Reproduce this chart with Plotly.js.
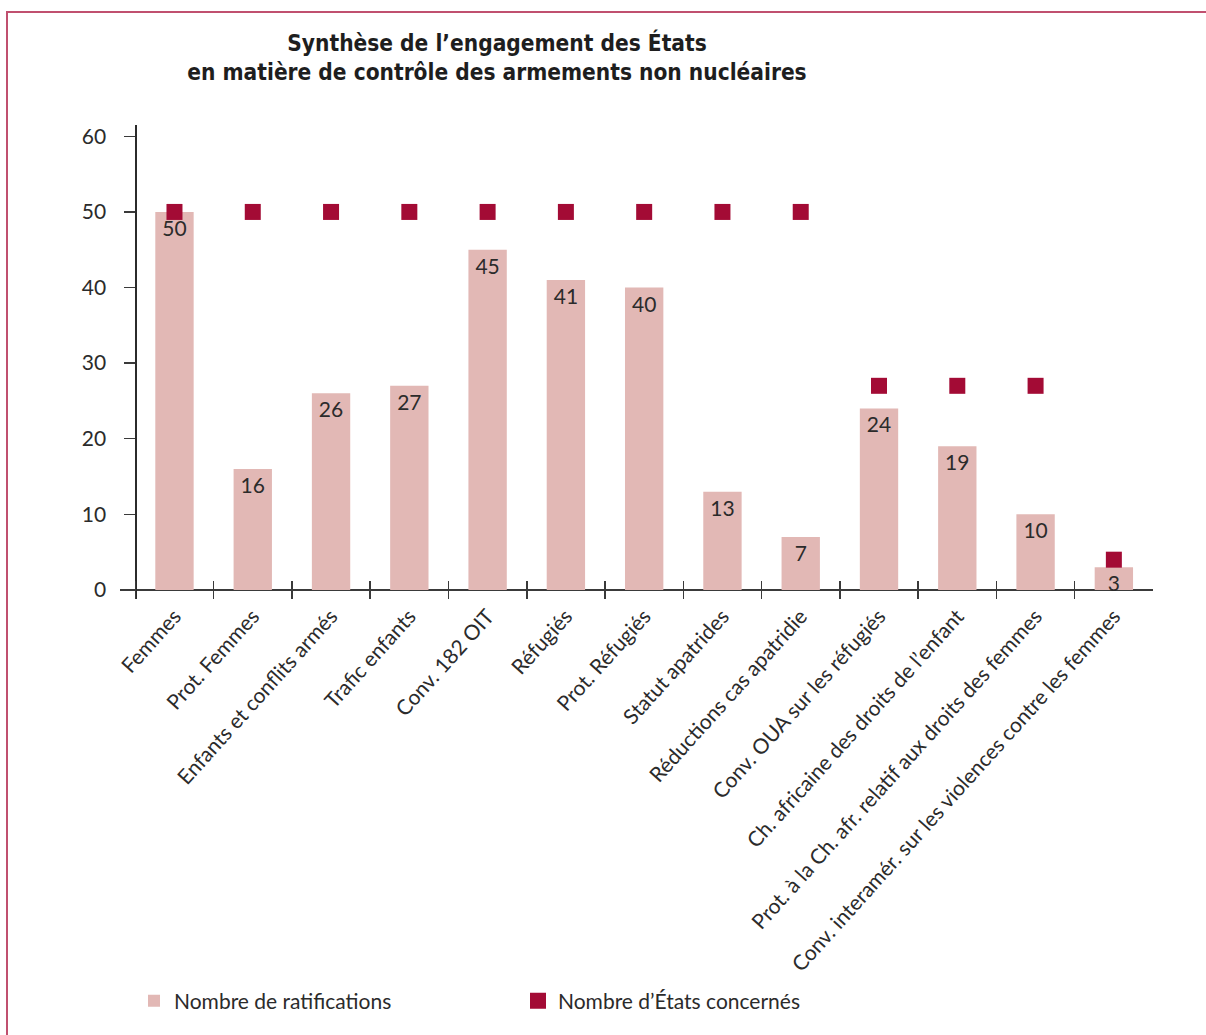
<!DOCTYPE html>
<html>
<head>
<meta charset="utf-8">
<script src="https://cdn.plot.ly/plotly-3.0.1.min.js"></script>
<style>
  html, body { margin: 0; padding: 0; background: #ffffff; }
  #wrap { position: relative; width: 1206px; height: 1035px; overflow: hidden; }
  #chart { position: absolute; left: 0; top: 0; width: 1206px; height: 1035px; }
  #frame { position: absolute; left: 6px; top: 11px; width: 1210px; height: 1040px;
           border-left: 2px solid #c0506f; border-top: 2px solid #c0506f; pointer-events: none; }
</style>
</head>
<body>
<div id="wrap">
  <div id="chart"></div>
  <div id="frame"></div>
</div>
<script>
const categories = [
  "Femmes",
  "Prot. Femmes",
  "Enfants et conflits armés",
  "Trafic enfants",
  "Conv. 182 OIT",
  "Réfugiés",
  "Prot. Réfugiés",
  "Statut apatrides",
  "Réductions cas apatridie",
  "Conv. OUA sur les réfugiés",
  "Ch. africaine des droits de l’enfant",
  "Prot. à la Ch. afr. relatif aux droits des femmes",
  "Conv. interamér. sur les violences contre les femmes"
];
const ratifications = [50, 16, 26, 27, 45, 41, 40, 13, 7, 24, 19, 10, 3];
const etatsConcernes = [50, 50, 50, 50, 50, 50, 50, 50, 50, 27, 27, 27, 4];
const yTicks = [0, 10, 20, 30, 40, 50, 60];

const FONT = "Lato, 'Open Sans', sans-serif";
const INK = "#2b2b2b";
const YPOS = 0.0149;

const traces = [
  {
    type: "bar",
    name: "Nombre de ratifications",
    x: categories,
    y: ratifications,
    width: 0.49,
    marker: { color: "#e2b8b5" },
    text: ratifications.map(String),
    textposition: "inside",
    insidetextanchor: "end",
    constraintext: "none",
    textangle: 0,
    textfont: { family: FONT, size: 21, color: INK },
    cliponaxis: false,
    hoverinfo: "skip"
  },
  {
    type: "scatter",
    mode: "markers",
    name: "Nombre d’États concernés",
    x: categories,
    y: etatsConcernes,
    marker: { symbol: "square", size: 16, color: "#a30b35" },
    cliponaxis: false,
    hoverinfo: "skip"
  }
];

const layout = {
  width: 1206,
  height: 1035,
  paper_bgcolor: "rgba(0,0,0,0)",
  plot_bgcolor: "rgba(0,0,0,0)",
  margin: { l: 120, r: 52.75, t: 124.6, b: 435.9, pad: 0 },
  showlegend: true,
  hovermode: false,
  title: {
    text: "Synthèse de l’engagement des États<br>en matière de contrôle des armements non nucléaires",
    font: { family: "'Liberation Sans Narrow', 'DejaVu Sans Condensed', sans-serif", size: 22.5, color: "#1e1e1e", weight: "bold" },
    xref: "container", yref: "container",
    x: 497 / 1206, xanchor: "center",
    y: 1 - 51 / 1035, yanchor: "top"
  },
  xaxis: {
    type: "category",
    range: [-0.696, 12.5],
    tickson: "boundaries",
    ticks: "inside",
    ticklen: 18,
    tickwidth: 1.5,
    tickcolor: "#3a3a3a",
    showline: false,
    showgrid: false,
    zeroline: false,
    tickangle: -48,
    tickfont: { family: FONT, size: 21, color: INK },
    fixedrange: true
  },
  yaxis: {
    range: [-1.2, 61.5],
    tickmode: "array",
    tickvals: yTicks,
    ticktext: yTicks.map(String),
    ticks: "outside",
    ticklen: 11,
    tickwidth: 1.5,
    tickcolor: "#3a3a3a",
    ticklabelstandoff: 14,
    showline: true,
    linecolor: "#2b2b2b",
    linewidth: 1.5,
    showgrid: false,
    zeroline: true,
    zerolinecolor: "#3a3a3a",
    zerolinewidth: 1.5,
    anchor: "free",
    position: YPOS,
    tickfont: { family: FONT, size: 21, color: INK },
    fixedrange: true
  },
  yaxis2: {
    overlaying: "y",
    range: [-1.2, 61.5],
    tickmode: "array",
    tickvals: yTicks,
    ticks: "inside",
    ticklen: 7,
    tickwidth: 1.5,
    tickcolor: "#3a3a3a",
    showticklabels: false,
    showline: false,
    showgrid: false,
    zeroline: false,
    anchor: "free",
    position: YPOS,
    fixedrange: true
  },
  legend: {
    orientation: "h",
    xref: "container", yref: "container",
    x: 134 / 1206, xanchor: "left",
    y: 1 - 1001 / 1035, yanchor: "middle",
    entrywidth: 339,
    entrywidthmode: "pixels",
    font: { family: FONT, size: 21, color: INK },
    bgcolor: "rgba(0,0,0,0)",
    borderwidth: 0,
    itemclick: false,
    itemdoubleclick: false
  }
};

Plotly.newPlot("chart", traces, layout, { displayModeBar: false, staticPlot: true });
</script>
</body>
</html>
